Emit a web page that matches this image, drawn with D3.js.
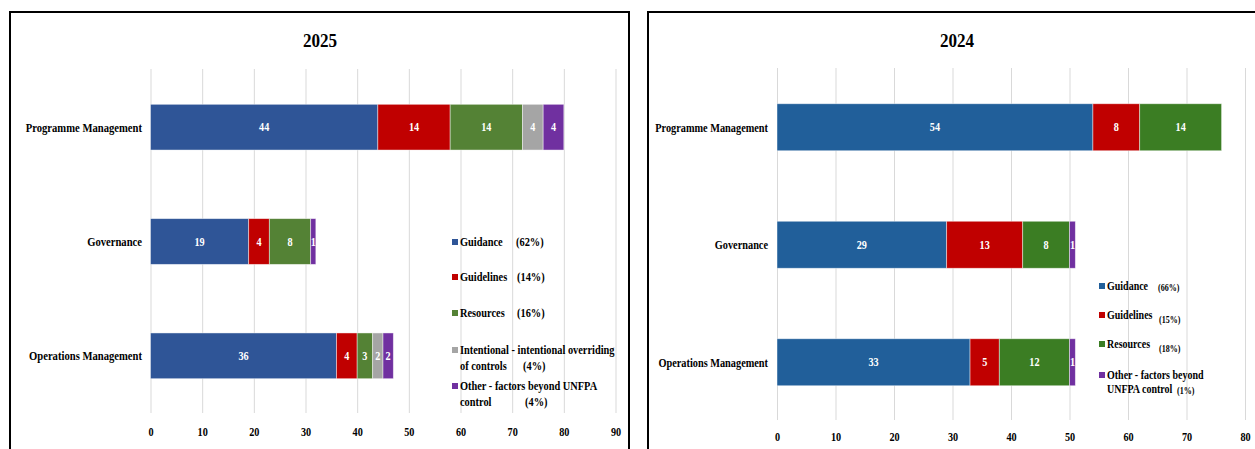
<!DOCTYPE html>
<html>
<head>
<meta charset="utf-8">
<script src="https://cdn.jsdelivr.net/npm/d3@7"></script>
<style>
  html, body { margin: 0; padding: 0; background: #fff; }
  svg { display: block; }
</style>
</head>
<body>
<svg id="chart" width="1255" height="449" font-family="'Liberation Serif', 'DejaVu Serif', serif" font-weight="bold"></svg>
<script>
// Root-cause categories of audit recommendations, by business area
const categories = ["Programme Management", "Governance", "Operations Management"];

// 2025 counts per category (same order as categories)
const guidance2025   = [44, 19, 36];
const guidelines2025 = [14, 4, 4];
const resources2025  = [14, 8, 3];
const intentional2025 = [4, 0, 2];
const other2025      = [4, 1, 2];
const xTicks2025 = [0, 10, 20, 30, 40, 50, 60, 70, 80, 90];
const legend2025 = [
  { lines: ["Guidance"], pct: "(62%)" },
  { lines: ["Guidelines"], pct: "(14%)" },
  { lines: ["Resources"], pct: "(16%)" },
  { lines: ["Intentional - intentional overriding", "of controls"], pct: "(4%)" },
  { lines: ["Other - factors beyond UNFPA", "control"], pct: "(4%)" }
];

// 2024 counts per category
const guidance2024   = [54, 29, 33];
const guidelines2024 = [8, 13, 5];
const resources2024  = [14, 8, 12];
const other2024      = [0, 1, 1];
const xTicks2024 = [0, 10, 20, 30, 40, 50, 60, 70, 80];
const legend2024 = [
  { lines: ["Guidance"], pct: "(66%)" },
  { lines: ["Guidelines"], pct: "(15%)" },
  { lines: ["Resources"], pct: "(18%)" },
  { lines: ["Other - factors beyond", "UNFPA control"], pct: "(1%)" }
];

const svg = d3.select("#chart");
const FONT = "'Liberation Serif', 'DejaVu Serif', serif";

// Text is drawn slightly condensed horizontally, like the original typeface
function label(g, x, y, str, opts) {
  const o = Object.assign({ size: 12, anchor: "start", fill: "#000", sx: 0.88 }, opts || {});
  return g.append("text")
    .attr("transform", `translate(${x},${y}) scale(${o.sx},1)`)
    .attr("text-anchor", o.anchor)
    .attr("dy", "0.35em")
    .attr("font-family", FONT)
    .attr("font-weight", "bold")
    .attr("font-size", o.size)
    .attr("fill", o.fill)
    .text(str);
}

function drawPanel(p) {
  const g = svg.append("g");

  // frame
  g.append("rect")
    .attr("x", p.frame[0]).attr("y", p.frame[1])
    .attr("width", p.frame[2]).attr("height", p.frame[3])
    .attr("fill", "#fff").attr("stroke", "#000").attr("stroke-width", 2);

  label(g, p.titleX, 40, p.title, { size: 19, anchor: "middle", sx: 0.9 });

  const x = d3.scaleLinear().domain(p.domain).range(p.xRange);
  const y = d3.scaleBand().domain(categories).range(p.yRange).paddingInner(0.6).paddingOuter(0.3);

  // vertical gridlines
  g.append("g").selectAll("line").data(p.ticks).join("line")
    .attr("x1", d => x(d) + 0.5).attr("x2", d => x(d) + 0.5)
    .attr("y1", p.gridY[0]).attr("y2", p.gridY[1])
    .attr("stroke", "#d9d9d9").attr("stroke-width", 1);

  // x tick labels
  const xAxis = d3.axisBottom(x).tickValues(p.ticks).tickSize(0).tickPadding(0);
  const ax = g.append("g").attr("transform", `translate(0,${p.axisY})`).call(xAxis);
  ax.select(".domain").remove();
  ax.selectAll("text").remove();
  ax.selectAll(".tick").each(function (d) {
    label(d3.select(this), 0, 0, String(d), { size: 12, anchor: "middle", sx: 0.85 });
  });

  // stacked series
  const rows = categories.map((c, i) => {
    const r = { category: c };
    p.series.forEach(s => { r[s.key] = s.values[i]; });
    return r;
  });
  const stack = d3.stack().keys(p.series.map(s => s.key))(rows);

  stack.forEach((layer, li) => {
    const s = p.series[li];
    const lg = g.append("g");
    lg.selectAll("rect").data(layer).join("rect")
      .filter(d => d[1] - d[0] > 0)
      .attr("x", d => x(d[0]))
      .attr("y", d => y(d.data.category))
      .attr("width", d => x(d[1]) - x(d[0]))
      .attr("height", y.bandwidth())
      .attr("fill", s.color)
      .attr("stroke", "rgba(255,255,255,0.55)")
      .attr("stroke-width", 0.8);
    layer.forEach(d => {
      const v = d[1] - d[0];
      if (v <= 0) return;
      label(lg, (x(d[0]) + x(d[1])) / 2, y(d.data.category) + y.bandwidth() / 2,
        String(v), { size: 12, anchor: "middle", fill: "#fff", sx: 0.85 });
    });
  });

  // category labels
  categories.forEach(c => {
    label(g, p.catX, y(c) + y.bandwidth() / 2, c, { size: 12.5, anchor: "end", sx: p.catSx });
  });

  // legend
  p.legend.forEach((item, i) => {
    const pos = p.legendPos[i];
    const col = p.series.find(s => s.key === p.legendKeys[i]).color;
    g.append("rect")
      .attr("x", p.legendX).attr("y", pos.y - 3)
      .attr("width", 6).attr("height", 6)
      .attr("fill", col);
    item.lines.forEach((ln, k) => {
      label(g, p.legendX + 8, pos.y + k * p.lineGap, ln, { size: 12.5, sx: p.legSx });
    });
    const last = item.lines.length - 1;
    label(g, pos.pctX, pos.y + last * p.lineGap + pos.pctDy, item.pct,
      { size: p.pctSize, sx: p.legSx });
  });
}

drawPanel({
  title: "2025",
  titleX: 320,
  frame: [10, 12, 619, 460],
  domain: [0, 90],
  xRange: [150.5, 615.5],
  yRange: [70, 413],
  gridY: [69, 413],
  ticks: xTicks2025,
  axisY: 432,
  catX: 142,
  catSx: 0.85,
  series: [
    { key: "Guidance", values: guidance2025, color: "#2f5597" },
    { key: "Guidelines", values: guidelines2025, color: "#c00000" },
    { key: "Resources", values: resources2025, color: "#548235" },
    { key: "Intentional", values: intentional2025, color: "#a5a5a5" },
    { key: "Other", values: other2025, color: "#7030a0" }
  ],
  legend: legend2025,
  legendKeys: ["Guidance", "Guidelines", "Resources", "Intentional", "Other"],
  legendX: 452,
  lineGap: 16,
  legSx: 0.83,
  pctSize: 12.5,
  legendPos: [
    { y: 242, pctX: 516, pctDy: 0 },
    { y: 277, pctX: 517, pctDy: 0 },
    { y: 313, pctX: 517, pctDy: 0 },
    { y: 350, pctX: 523, pctDy: 0 },
    { y: 386, pctX: 525, pctDy: 0 }
  ]
});

drawPanel({
  title: "2024",
  titleX: 957,
  frame: [648, 12, 640, 460],
  domain: [0, 80],
  xRange: [777, 1245],
  yRange: [68.5, 421],
  gridY: [68, 420],
  ticks: xTicks2024,
  axisY: 437,
  catX: 768,
  catSx: 0.825,
  series: [
    { key: "Guidance", values: guidance2024, color: "#215f9a" },
    { key: "Guidelines", values: guidelines2024, color: "#c00000" },
    { key: "Resources", values: resources2024, color: "#3b7d23" },
    { key: "Other", values: other2024, color: "#7030a0" }
  ],
  legend: legend2024,
  legendKeys: ["Guidance", "Guidelines", "Resources", "Other"],
  legendX: 1099,
  lineGap: 14,
  legSx: 0.8,
  pctSize: 10,
  legendPos: [
    { y: 286, pctX: 1158, pctDy: 1 },
    { y: 315, pctX: 1159, pctDy: 4 },
    { y: 344, pctX: 1159, pctDy: 4 },
    { y: 375, pctX: 1177, pctDy: 1 }
  ]
});
</script>
</body>
</html>
